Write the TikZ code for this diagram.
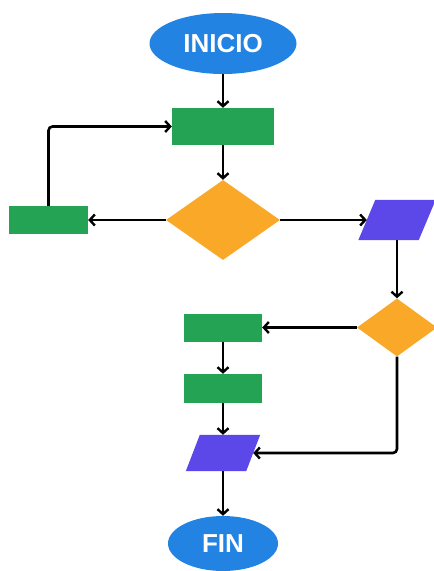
\documentclass[tikz,border=0pt]{standalone}
\usepackage{fontspec}
\setmainfont{Liberation Sans}
\usetikzlibrary{shapes.geometric,arrows.meta,calc}
\definecolor{cblue}{RGB}{35,131,226}
\definecolor{cgreen}{RGB}{36,163,85}
\definecolor{corange}{RGB}{249,168,40}
\definecolor{cpurple}{RGB}{92,72,232}
\tikzset{
  term/.style={ellipse,fill=cblue,inner sep=0pt,text=white,font=\fontsize{26}{26}\selectfont\bfseries},
  proc/.style={rectangle,fill=cgreen,inner sep=0pt},
  dec/.style={diamond,fill=corange,inner sep=0pt},
  iobox/.style={rectangle,inner sep=0pt},
  conn/.style={line width=2.6pt,-{Straight Barb[length=5pt,width=11pt,line width=2.4pt]},rounded corners=4pt}
}
\begin{document}
\begin{tikzpicture}[x=1pt,y=-1pt]
\useasboundingbox (0,0) rectangle (434,571);
\clip (0,0) rectangle (434,571);
\node[term,minimum width=147pt,minimum height=61pt] (inicio) at (223,43.5) {INICIO};
\node[proc,minimum width=102pt,minimum height=37pt] (r1) at (223,126.5) {};
\node[dec,minimum width=114pt,minimum height=80pt] (d1) at (223,220) {};
\node[proc,minimum width=79pt,minimum height=28pt] (rl) at (48.5,220) {};
\node[iobox,minimum width=60pt,minimum height=40pt] (p1) at (397,220) {};
\fill[cpurple] ($(p1.south west)+(-8.5,0)$) -- ($(p1.south east)+(-8.5,0)$) -- ($(p1.north east)+(8.5,0)$) -- ($(p1.north west)+(8.5,0)$) -- cycle;
\node[dec,minimum width=80pt,minimum height=58pt] (d2) at (397,327.5) {};
\node[proc,minimum width=78pt,minimum height=28pt] (r2) at (223,327.5) {};
\node[proc,minimum width=78pt,minimum height=29pt] (r3) at (223,388.5) {};
\node[iobox,minimum width=60pt,minimum height=36pt] (p2) at (223,453) {};
\fill[cpurple] ($(p2.south west)+(-7,0)$) -- ($(p2.south east)+(-7,0)$) -- ($(p2.north east)+(7,0)$) -- ($(p2.north west)+(7,0)$) -- cycle;
\node[term,minimum width=110pt,minimum height=55pt] (fin) at (223,543.5) {FIN};
\draw[conn] (inicio.south) -- (r1.north);
\draw[conn] (r1.south) -- (d1.north);
\draw[conn] (d1.west) -- (rl.east);
\draw[conn] (rl.north) |- (r1.west);
\draw[conn] (d1.east) -- (p1.west);
\draw[conn] (p1.south) -- (d2.north);
\draw[conn] (d2.west) -- (r2.east);
\draw[conn] (r2.south) -- (r3.north);
\draw[conn] (r3.south) -- (p2.north);
\draw[conn] (d2.south) |- (p2.east);
\draw[conn] (p2.south) -- (fin.north);
\end{tikzpicture}
\end{document}
